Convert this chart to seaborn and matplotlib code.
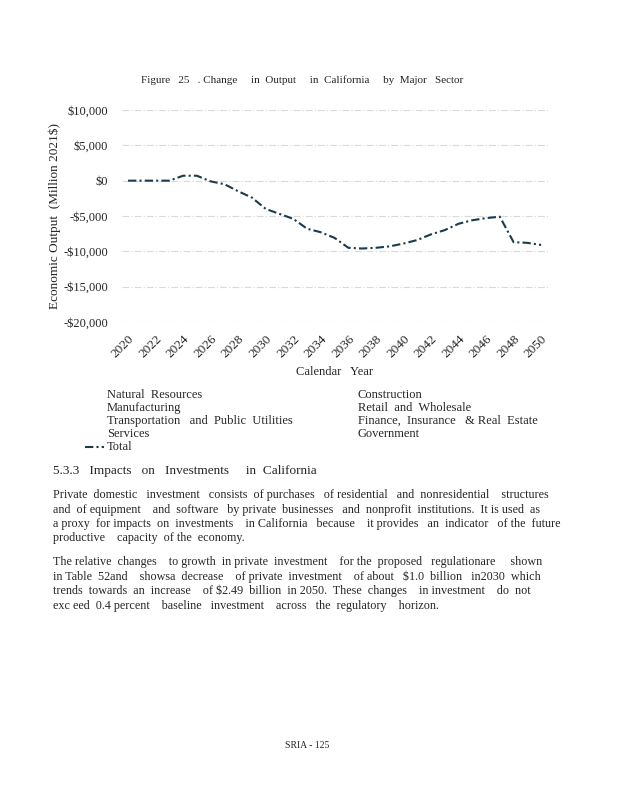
import pandas as pd
import matplotlib.pyplot as plt
import seaborn as sns

# yearly change in total output (million 2021$)
years = list(range(2020, 2051))
total = [0, 0, 0, 0, 700, 700, -100, -500, -1500, -2400,
         -4000, -4700, -5400, -6800, -7300, -8100, -9500, -9600, -9500, -9300,
         -8900, -8400, -7600, -7000, -6100, -5600, -5300, -5100, -8700, -8800,
         -9100]

y_ticks = [10000, 5000, 0, -5000, -10000, -15000, -20000]
y_labels = ["$10,000", "$5,000", "$0", "-$5,000", "-$10,000", "-$15,000", "-$20,000"]
x_ticks = list(range(2020, 2051, 2))

legend_left = ["Natural  Resources", "Manufacturing",
               "Transportation   and  Public  Utilities", "Services"]
legend_right = ["Construction", "Retail  and  Wholesale",
                "Finance,  Insurance   & Real  Estate", "Government"]

heading = "5.3.3   Impacts   on   Investments     in  California"
para1 = [
    "Private  domestic   investment   consists  of purchases   of residential   and  nonresidential    structures",
    "and  of equipment    and  software   by private  businesses   and  nonprofit  institutions.  It is used  as",
    "a proxy  for impacts  on  investments    in California   because    it provides   an  indicator   of the  future",
    "productive    capacity  of the  economy.",
]
para2 = [
    "The relative  changes    to growth  in private  investment    for the  proposed   regulationare     shown",
    "in Table  52and    showsa  decrease    of private  investment    of about   $1.0  billion   in2030  which",
    "trends  towards  an  increase    of $2.49  billion  in 2050.  These  changes    in investment    do  not",
    "exc eed  0.4 percent    baseline   investment    across   the  regulatory    horizon.",
]

df = pd.DataFrame({"Year": years, "Total": total})

sns.set_theme(style="white")
plt.rcParams["font.family"] = ["Liberation Serif", "DejaVu Serif"]

fig = plt.figure(figsize=(6.18, 8), dpi=100)
fig.patch.set_facecolor("white")
ax = fig.add_axes([122 / 618, 1 - 322 / 800, 426 / 618, 212 / 800])

line_color = "#1b3a4b"
dash = (0, (4, 1.5, 1, 1.5))
sns.lineplot(data=df, x="Year", y="Total", ax=ax, color=line_color,
             linewidth=1.5, linestyle=dash)

ax.set_xlim(2019.56, 2050.5)
ax.set_ylim(-20000, 10000)
ax.set_yticks(y_ticks)
ax.set_yticklabels(y_labels, fontsize=9)
ax.set_xticks(x_ticks)
ax.set_xticklabels([str(x) for x in x_ticks], rotation=45, ha="right",
                   rotation_mode="anchor", fontsize=9.5)
ax.tick_params(axis="x", length=0, pad=8)
ax.tick_params(axis="y", length=0, pad=10)
ax.grid(axis="y", color="#d9d9d9", linewidth=0.8, linestyle=(0, (6, 2, 1, 2)))
for s in ax.spines.values():
    s.set_visible(False)

ax.set_xlabel("Calendar   Year", fontsize=9, labelpad=4)
ax.set_ylabel("Economic Output  (Million 2021$)", fontsize=9.5, labelpad=2)

fig.text(302 / 618, 1 - 80 / 800,
         "Figure   25   . Change     in  Output     in  California     by  Major   Sector",
         ha="center", va="center", fontsize=8)

# legend block drawn as text below the chart
for i, (a, b) in enumerate(zip(legend_left, legend_right)):
    yy = 1 - (395 + 13 * i) / 800
    fig.text(107 / 618, yy, a, fontsize=9, va="center")
    fig.text(358 / 618, yy, b, fontsize=9, va="center")
y_tot = 1 - 447 / 800
fig.add_artist(plt.Line2D([85 / 618, 104 / 618], [y_tot, y_tot], color=line_color,
                          linewidth=1.5, linestyle=dash,
                          transform=fig.transFigure))
fig.text(107 / 618, y_tot, "Total", fontsize=9, va="center")

fig.text(53 / 618, 1 - 471 / 800, heading, fontsize=9.5, va="center")
for i, t in enumerate(para1):
    fig.text(53 / 618, 1 - (495 + 14.5 * i) / 800, t, fontsize=8.7, va="center")
for i, t in enumerate(para2):
    fig.text(53 / 618, 1 - (562 + 14.5 * i) / 800, t, fontsize=8.7, va="center")

fig.text(285 / 618, 1 - 746 / 800, "SRIA - 125", fontsize=7, va="center")

plt.savefig("out.png", dpi=100)
